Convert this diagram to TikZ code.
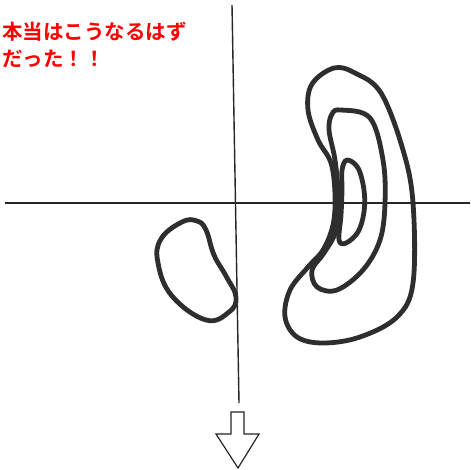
\documentclass[tikz,border=0pt]{standalone}
\usepackage{fontspec}
\newfontfamily\cjk{Noto Sans CJK JP Bold}
\tikzset{
  axisline/.style={line width=1.4pt, black!85},
  contour/.style={line width=4.8pt, black!82, line join=round},
  labeltext/.style={font=\cjk\fontsize{20.5}{24}\selectfont, text=red, anchor=west, inner sep=0pt},
  bigarrow/.style={line width=1.2pt, black!85, line join=miter}
}
\begin{document}
\begin{tikzpicture}[x=1pt,y=-1pt]
\useasboundingbox (0,0) rectangle (470,470);
\fill[white] (0,0) rectangle (470,470);
% axes
\coordinate (vtop) at (232,5);
\coordinate (vbot) at (239,403);
\coordinate (hleft) at (5,203);
\coordinate (hright) at (470,203);
\draw[axisline] (vtop) -- (vbot);
\draw[axisline] (hleft) -- (hright);
% arrow
\coordinate (a1) at (231,412);
\coordinate (a2) at (244,412);
\coordinate (a3) at (244,434);
\coordinate (a4) at (259,434);
\coordinate (a5) at (238,468);
\coordinate (a6) at (216,434);
\coordinate (a7) at (231,434);
\draw[bigarrow] (a1) -- (a2) -- (a3) -- (a4) -- (a5) -- (a6) -- (a7) -- cycle;
% left blob
\draw[contour] plot[smooth cycle, tension=0.7] coordinates {
 (182,222) (197,221) (206,230) (214,255) (226,276) (236,297) (229,312)
 (206,320) (172,296) (158,263) (161,239)};
% outer contour
\draw[contour] plot[smooth cycle, tension=0.6] coordinates {
 (334,68) (355,73) (381,93) (403,150) (413,203) (413,283) (397,317)
 (360,337) (323,343) (297,337) (285,317) (290,290) (308,267) (323,250)
 (333,225) (335,195) (331,163) (318,140) (308,110) (312,84)};
% middle contour
\draw[contour] plot[smooth cycle, tension=0.6] coordinates {
 (341,110) (370,118) (383,160) (385,203) (380,240) (363,270) (337,290)
 (317,287) (312,270) (324,253) (336,230) (338,195) (335,160) (329,130) (332,114)};
% inner contour
\draw[contour] plot[smooth cycle, tension=0.6] coordinates {
 (347,160) (358,168) (364,190) (364,212) (358,232) (346,243) (339,240)
 (341,215) (342,190) (342,170)};
% text
\node[labeltext] (t1) at (2,32) {本当はこうなるはず};
\node[labeltext] (t2) at (2,59) {だった！！};
\end{tikzpicture}
\end{document}
